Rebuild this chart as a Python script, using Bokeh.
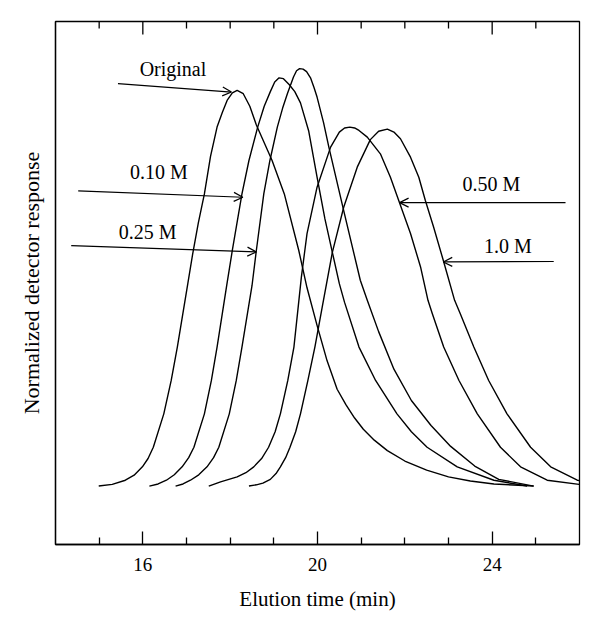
from bokeh.plotting import figure
from bokeh.models import Range1d, FixedTicker, Arrow, OpenHead, ColumnDataSource
from bokeh.core.properties import value
from bokeh.embed import file_html
from bokeh.resources import INLINE

FONT = "Liberation Serif"

# ---- data (elution time in min, normalized response) ----
orig_t = [14.99, 15.30, 15.60, 15.80, 15.99, 16.12, 16.24, 16.48, 16.65, 16.79, 17.03, 17.14, 17.27,
          17.41, 17.55, 17.70, 17.82, 17.93, 18.05, 18.16, 18.30, 18.45, 18.60, 18.96, 19.24, 19.57,
          19.76, 19.99, 20.22, 20.45, 20.65, 20.85, 21.05, 21.30, 21.60, 22.00, 22.50, 23.00, 23.50,
          24.04, 24.95]
orig_y = [0.0, 0.004, 0.014, 0.026, 0.046, 0.066, 0.093, 0.173, 0.253, 0.333, 0.485, 0.555, 0.630,
          0.700, 0.790, 0.860, 0.895, 0.924, 0.942, 0.948, 0.940, 0.910, 0.865, 0.780, 0.700, 0.565,
          0.475, 0.385, 0.300, 0.232, 0.195, 0.163, 0.136, 0.110, 0.085, 0.060, 0.038, 0.022, 0.012,
          0.005, 0.0]

m010_t = [16.15, 16.35, 16.54, 16.72, 16.90, 17.05, 17.17, 17.41, 17.57, 17.70, 17.92, 18.05, 18.27,
          18.43, 18.63, 18.78, 18.92, 19.02, 19.12, 19.22, 19.35, 19.48, 19.61, 19.80, 19.99, 20.17,
          20.34, 20.50, 20.62, 20.95, 21.33, 21.82, 22.15, 22.51, 23.20, 24.04, 24.80]
m010_y = [0.0, 0.005, 0.014, 0.027, 0.046, 0.068, 0.093, 0.173, 0.253, 0.333, 0.48, 0.565, 0.700,
          0.780, 0.860, 0.910, 0.945, 0.968, 0.978, 0.976, 0.962, 0.945, 0.918, 0.850, 0.740, 0.640,
          0.560, 0.485, 0.440, 0.333, 0.253, 0.173, 0.130, 0.093, 0.046, 0.014, 0.0]

m025_t = [16.75, 16.92, 17.09, 17.28, 17.47, 17.62, 17.74, 17.98, 18.14, 18.27, 18.50, 18.60, 18.77,
          18.91, 19.08, 19.20, 19.31, 19.45, 19.52, 19.59, 19.67, 19.75, 19.84, 19.92, 19.99, 20.14,
          20.26, 20.60, 20.98, 21.14, 21.40, 21.75, 22.15, 22.60, 23.05, 23.60, 24.15, 24.95]
m025_y = [0.0, 0.005, 0.014, 0.027, 0.046, 0.068, 0.093, 0.173, 0.253, 0.333, 0.48, 0.565, 0.700,
          0.780, 0.860, 0.905, 0.940, 0.980, 0.995, 1.000, 0.999, 0.993, 0.978, 0.955, 0.932, 0.870,
          0.812, 0.660, 0.493, 0.445, 0.370, 0.280, 0.205, 0.145, 0.095, 0.048, 0.016, 0.0]

m050_t = [17.51, 17.78, 18.16, 18.36, 18.54, 18.72, 18.88, 19.03, 19.15, 19.32, 19.46, 19.63, 19.76,
          19.99, 20.30, 20.50, 20.62, 20.74, 20.85, 20.95, 21.14, 21.44, 21.67, 21.86, 22.13, 22.36,
          22.53, 22.63, 22.89, 23.24, 23.66, 24.19, 24.65, 25.26, 25.99]
m050_y = [0.0, 0.010, 0.022, 0.032, 0.046, 0.066, 0.093, 0.130, 0.173, 0.253, 0.333, 0.500, 0.605,
          0.716, 0.812, 0.848, 0.858, 0.860, 0.858, 0.852, 0.836, 0.796, 0.740, 0.684, 0.605, 0.525,
          0.445, 0.413, 0.333, 0.253, 0.173, 0.093, 0.046, 0.014, 0.004]

m100_t = [18.43, 18.60, 18.75, 18.92, 19.05, 19.15, 19.27, 19.37, 19.50, 19.61, 19.78, 19.94, 20.11,
          20.34, 20.60, 20.91, 21.21, 21.40, 21.60, 21.75, 21.90, 22.13, 22.32, 22.47, 22.66, 22.88,
          23.14, 23.27, 23.58, 23.92, 24.34, 24.88, 25.34, 25.95, 26.0]
m100_y = [0.0, 0.003, 0.007, 0.016, 0.030, 0.046, 0.068, 0.093, 0.130, 0.173, 0.253, 0.333, 0.430,
          0.560, 0.668, 0.764, 0.830, 0.850, 0.855, 0.848, 0.832, 0.788, 0.740, 0.684, 0.620, 0.541,
          0.445, 0.413, 0.333, 0.253, 0.173, 0.093, 0.046, 0.014, 0.013]

# annotation labels and arrows
label_text = ["Original", "0.10 M", "0.25 M", "0.50 M", "1.0 M"]
label_x = [16.69, 16.37, 16.11, 23.98, 24.36]
label_y = [1.000, 0.753, 0.609, 0.723, 0.574]
arrow_x0 = [15.43, 14.52, 14.36, 25.68, 25.41]
arrow_y0 = [0.964, 0.707, 0.576, 0.679, 0.538]
arrow_x1 = [18.03, 18.29, 18.60, 21.88, 22.88]
arrow_y1 = [0.944, 0.692, 0.561, 0.679, 0.537]

major_ticks = [16, 20, 24]
minor_ticks = [15, 17, 18, 19, 21, 22, 23, 25]

X0, X1 = 14, 26
Y0, Y1 = -0.14, 1.113
FRAME_H = 523
p = figure(width=600, height=630, x_range=Range1d(X0, X1), y_range=Range1d(Y0, Y1),
           output_backend="svg", toolbar_location=None,
           min_border_left=55, min_border_right=21, min_border_top=21, min_border_bottom=86)
p.background_fill_color = "white"
p.border_fill_color = "white"
p.outline_line_color = "black"
p.outline_line_width = 1.3
p.xgrid.visible = False
p.ygrid.visible = False

for tt, yy in [(orig_t, orig_y), (m010_t, m010_y), (m025_t, m025_y), (m050_t, m050_y), (m100_t, m100_y)]:
    p.line(tt, yy, line_color="black", line_width=1.4, line_join="round")

# x axis (bottom)
xa = p.xaxis[0]
xa.ticker = FixedTicker(ticks=major_ticks, minor_ticks=minor_ticks)
xa.major_tick_in = 13
xa.major_tick_out = 0
xa.minor_tick_in = 7
xa.minor_tick_out = 0
xa.axis_line_color = "black"
xa.axis_line_width = 1.3
xa.major_tick_line_width = 1.3
xa.minor_tick_line_width = 1.3
xa.major_label_text_font = FONT
xa.major_label_text_font_size = "19px"
xa.major_label_text_color = "black"
xa.major_label_standoff = 13
xa.axis_label = "Elution time (min)"
xa.axis_label_text_font = FONT
xa.axis_label_text_font_style = "normal"
xa.axis_label_text_font_size = "21px"
xa.axis_label_text_color = "black"
xa.axis_label_standoff = 13

# y axis (left) — no ticks
ya = p.yaxis[0]
ya.ticker = FixedTicker(ticks=[])
ya.major_tick_in = 0
ya.major_tick_out = 0
ya.minor_tick_in = 0
ya.minor_tick_out = 0
ya.axis_line_color = "black"
ya.axis_line_width = 1.3
ya.axis_label = "Normalized detector response"
ya.axis_label_text_font = FONT
ya.axis_label_text_font_style = "normal"
ya.axis_label_text_font_size = "22px"
ya.axis_label_text_color = "black"
ya.axis_label_standoff = 12

# inward ticks on the top edge, derived from the same tick lists
per_px = (Y1 - Y0) / FRAME_H
p.segment(x0=major_ticks, x1=major_ticks, y0=[Y1] * len(major_ticks),
          y1=[Y1 - 13 * per_px] * len(major_ticks), line_color="black", line_width=1.3)
p.segment(x0=minor_ticks, x1=minor_ticks, y0=[Y1] * len(minor_ticks),
          y1=[Y1 - 7 * per_px] * len(minor_ticks), line_color="black", line_width=1.3)

# labels
src = ColumnDataSource(dict(x=label_x, y=label_y, text=label_text))
p.text(x="x", y="y", text="text", source=src, text_font=value(FONT),
       text_font_size=value("20px"), text_align="center", text_baseline="middle",
       text_color="black")

for x0, y0, x1, y1 in zip(arrow_x0, arrow_y0, arrow_x1, arrow_y1):
    p.add_layout(Arrow(end=OpenHead(size=9, line_width=1.2, line_color="black"),
                       x_start=x0, y_start=y0, x_end=x1, y_end=y1,
                       line_width=1.2, line_color="black"))

open("out.html", "w").write(file_html(p, INLINE))
